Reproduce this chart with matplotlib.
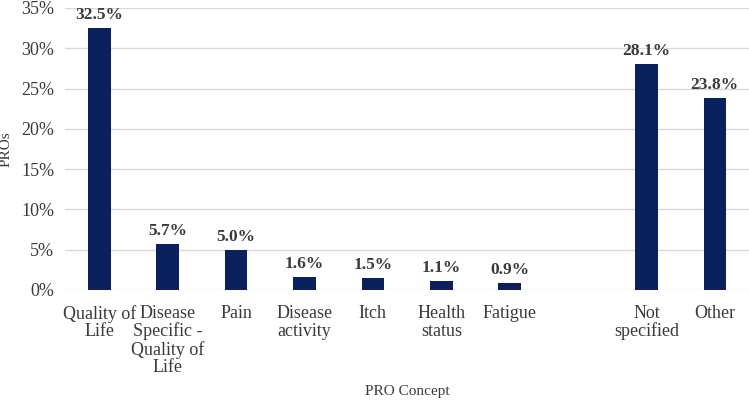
import matplotlib.pyplot as plt
import numpy as np

# PRO concept shares (the blank slot is the gap before "Not specified")
categories = ["Quality of\nLife", "Disease\nSpecific -\nQuality of\nLife", "Pain",
              "Disease\nactivity", "Itch", "Health\nstatus", "Fatigue", "",
              "Not\nspecified", "Other"]
values = [32.5, 5.7, 5.0, 1.6, 1.5, 1.1, 0.9, None, 28.1, 23.8]
yticks = [0, 5, 10, 15, 20, 25, 30, 35]

BAR_COLOR = "#0b215e"
TEXT_COLOR = "#3a3a3a"

plt.rcParams['font.family'] = ['Liberation Serif', 'DejaVu Serif']

fig = plt.figure(figsize=(7.49, 4.0), dpi=100)
ax = fig.add_axes([0.087, 0.275, 0.913, 0.705])

x = np.arange(len(categories))
for xi, v in zip(x, values):
    if v is None:
        continue
    ax.bar(xi, v, width=0.33, color=BAR_COLOR, zorder=3)
    ax.text(xi, v + 0.6, "%.1f%%" % v, ha='center', va='bottom',
            fontsize=12.5, fontweight='bold', color=TEXT_COLOR)

ax.set_xlim(-0.5, len(categories) - 0.5)
ax.set_ylim(0, 35)
ax.set_yticks(yticks)
ax.set_yticklabels(["%d%%" % t for t in yticks])
ax.set_xticks(x)
ax.set_xticklabels(categories, linespacing=1.02)

ax.grid(axis='y', color='#d9d9d9', linewidth=1, zorder=0)
for s in ax.spines.values():
    s.set_visible(False)
ax.tick_params(axis='both', length=0, labelsize=13, colors=TEXT_COLOR)
ax.tick_params(axis='y', pad=8)
ax.tick_params(axis='x', pad=11)

ax.set_ylabel("PROs", fontsize=11, color=TEXT_COLOR, labelpad=6)
fig.text(0.087 + 0.913 / 2, 0.022, "PRO Concept", ha='center', va='center',
         fontsize=11, color=TEXT_COLOR)

fig.savefig("out.png", dpi=100)
